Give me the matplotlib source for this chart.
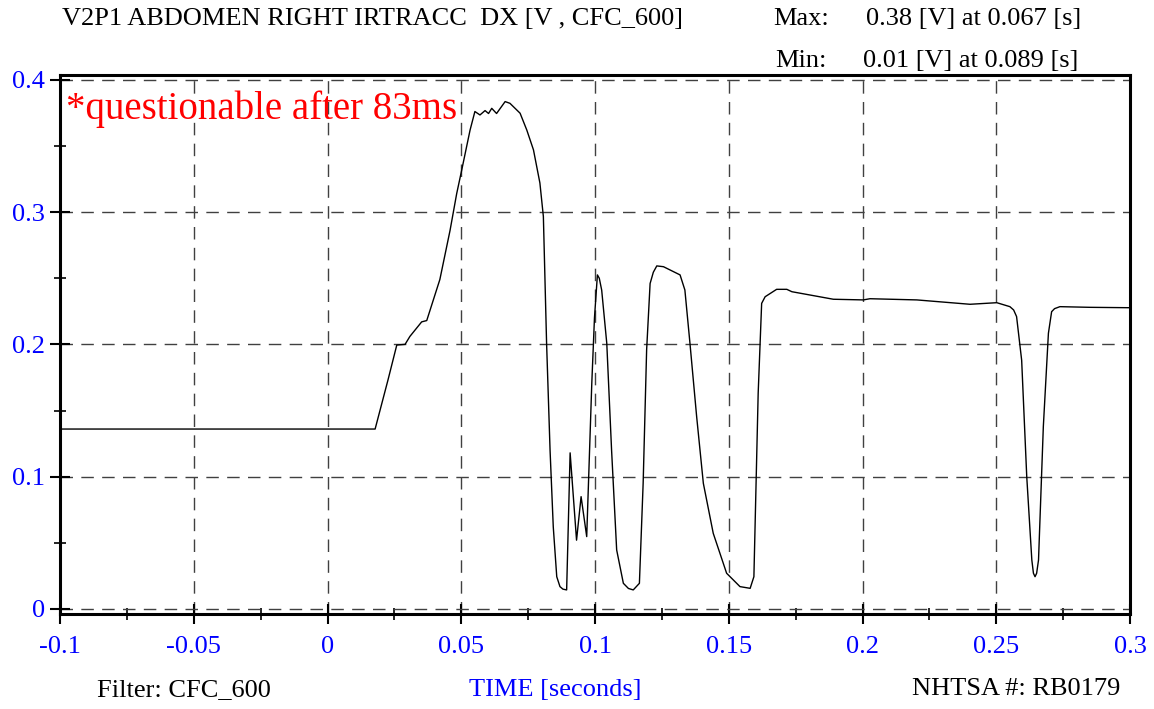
import matplotlib
matplotlib.use("Agg")
import matplotlib.pyplot as plt
from matplotlib.ticker import MultipleLocator

plt.rcParams["font.family"] = ["Liberation Serif", "DejaVu Serif"]

# ===== data =====
time_s = [
    -0.1, 0.0178, 0.0226, 0.0259, 0.029, 0.0308, 0.0352, 0.0371, 0.042, 0.0458,
    0.0483, 0.0502, 0.0533, 0.0551, 0.057, 0.0589, 0.0602, 0.0614, 0.0632, 0.0664,
    0.0682, 0.072, 0.0745, 0.077, 0.0794, 0.0807, 0.0819, 0.0832, 0.0844, 0.0857,
    0.0869, 0.088, 0.0894, 0.0907, 0.0931, 0.0948, 0.0969, 0.0988, 0.0998, 0.1009,
    0.1016, 0.1025, 0.1044, 0.1062, 0.1081, 0.1106, 0.1125, 0.1143, 0.1166, 0.118,
    0.1193, 0.1206, 0.1218, 0.1231, 0.1256, 0.1293, 0.1318, 0.1336, 0.1355, 0.138,
    0.1405, 0.1442, 0.1492, 0.1542, 0.158, 0.1594, 0.161, 0.1623, 0.1636, 0.1679,
    0.1717, 0.1736, 0.1891, 0.2003, 0.2028, 0.2203, 0.2402, 0.2502, 0.2551, 0.2565,
    0.2576, 0.2595, 0.2614, 0.2633, 0.2639, 0.2645, 0.2651, 0.2658, 0.2676, 0.2695,
    0.2707, 0.2718, 0.2738, 0.285, 0.3,
]
volts = [
    0.136, 0.136, 0.173, 0.1995, 0.200, 0.206, 0.217, 0.218, 0.249, 0.286,
    0.314, 0.332, 0.362, 0.376, 0.3734, 0.3767, 0.3745, 0.3784, 0.3745, 0.3835,
    0.3822, 0.3747, 0.362, 0.347, 0.322, 0.2966, 0.201, 0.120, 0.062, 0.0244,
    0.0169, 0.0150, 0.0144, 0.118, 0.052, 0.0849, 0.0547, 0.1706, 0.220, 0.2525,
    0.250, 0.241, 0.2008, 0.120, 0.0446, 0.0194, 0.0155, 0.0144, 0.0194, 0.095,
    0.1958, 0.246, 0.2545, 0.2593, 0.2587, 0.255, 0.2525, 0.2411, 0.2008, 0.1454,
    0.095, 0.0572, 0.027, 0.0169, 0.0156, 0.0244, 0.163, 0.231, 0.236, 0.2416,
    0.2416, 0.2398, 0.2341, 0.2336, 0.2345, 0.2336, 0.2303, 0.2315, 0.2285, 0.226,
    0.221, 0.188, 0.100, 0.037, 0.027, 0.0244, 0.027, 0.037, 0.1378, 0.2084,
    0.2247, 0.227, 0.2285, 0.228, 0.2277,
]
xticks = [-0.1, -0.05, 0, 0.05, 0.1, 0.15, 0.2, 0.25, 0.3]
xtick_labels = ["-0.1", "-0.05", "0", "0.05", "0.1", "0.15", "0.2", "0.25", "0.3"]
yticks = [0, 0.1, 0.2, 0.3, 0.4]
ytick_labels = ["0", "0.1", "0.2", "0.3", "0.4"]

fig = plt.figure(figsize=(11.54, 7.09), dpi=100)
ax = fig.add_axes([60 / 1154, 95 / 709, 1070 / 1154, 539 / 709])

ax.plot(time_s, volts, color="black", lw=1.0)

ax.set_xlim(-0.1, 0.3)
ax.set_ylim(-0.0038, 0.4036)
ax.set_xticks(xticks)
ax.set_xticklabels(xtick_labels)
ax.set_yticks(yticks)
ax.set_yticklabels(ytick_labels)
ax.xaxis.set_minor_locator(MultipleLocator(0.025))
ax.yaxis.set_minor_locator(MultipleLocator(0.05))
ax.tick_params(which="major", direction="inout", length=14, width=1.5,
               labelsize=19, labelcolor="blue")
ax.tick_params(axis="x", which="major", pad=9)
ax.tick_params(axis="y", which="major", pad=4)
ax.tick_params(which="minor", direction="inout", length=9, width=1.2)

# dashed grid
ax.grid(True, which="major", color="#404040", lw=1.0, dashes=(9, 6))
for s in ax.spines.values():
    s.set_linewidth(2.2)

ax.text(0.006, 0.972, "*questionable after 83ms", transform=ax.transAxes,
        color="red", fontsize=28, va="top", ha="left")

# header / footer text
fig.text(62 / 1154, 1 - 19 / 709, "V2P1 ABDOMEN RIGHT IRTRACC  DX [V , CFC_600]",
         fontsize=19, va="center", ha="left")
fig.text(773 / 1154, 1 - 19 / 709, "Max:", fontsize=19, va="center", ha="left")
fig.text(866 / 1154, 1 - 19 / 709, "0.38 [V] at 0.067 [s]", fontsize=19,
         va="center", ha="left")
fig.text(775 / 1154, 1 - 61 / 709, "Min:", fontsize=19, va="center", ha="left")
fig.text(863 / 1154, 1 - 61 / 709, "0.01 [V] at 0.089 [s]", fontsize=19,
         va="center", ha="left")
fig.text(97 / 1154, 1 - 690 / 709, "Filter: CFC_600", fontsize=19,
         va="center", ha="left")
fig.text(555 / 1154, 1 - 690 / 709, "TIME [seconds]", fontsize=19, color="blue",
         va="center", ha="center")
fig.text(1120 / 1154, 1 - 689 / 709, "NHTSA #: RB0179", fontsize=19,
         va="center", ha="right")

fig.savefig("out.png", dpi=100)
